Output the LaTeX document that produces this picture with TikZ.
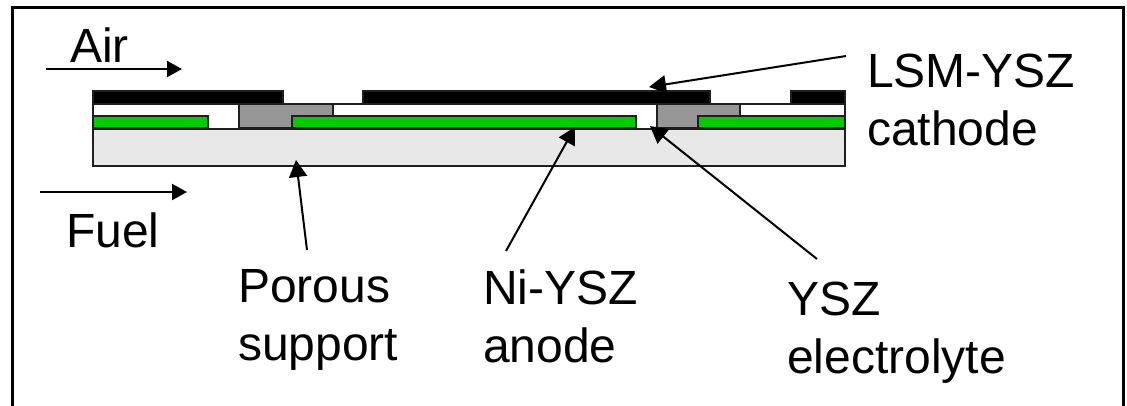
\documentclass[tikz,border=0pt]{standalone}
\usepackage{fontspec}
\setmainfont{Liberation Sans}
\usetikzlibrary{arrows.meta}
\definecolor{layline}{gray}{0.12}
\definecolor{anodegreen}{RGB}{0,204,0}
\definecolor{intergray}{RGB}{150,150,150}
\definecolor{supportgray}{RGB}{232,232,232}
\tikzset{
  lay/.style={draw=layline,line width=2pt},
  blacklay/.style={lay,fill=black},
  greenlay/.style={lay,fill=anodegreen},
  graylay/.style={lay,fill=intergray},
  supportlay/.style={lay,fill=supportgray},
  flow/.style={draw=black,line width=2pt,-{Triangle[length=15pt,width=16pt]}},
  lead/.style={draw=black,line width=2pt,-{Triangle[length=17pt,width=18pt]}},
  lab/.style={font=\fontsize{48}{58}\selectfont,inner sep=0pt,text=black,align=left,anchor=base west}
}
\begin{document}
\begin{tikzpicture}[x=1pt,y=-1pt]
\useasboundingbox (0,0) rectangle (1127,405);
\fill[white] (0,0) rectangle (1127,405);
\begin{scope}
\clip (0,0) rectangle (1127,405);
\draw[black,line width=3pt] (12,7) rectangle (1123,420);
\end{scope}
% layers
\draw[supportlay] (93,129) rectangle (845,166);
\draw[lay,fill=white] (93,104) rectangle (845,129);
\draw[greenlay] (93,116) rectangle (208,128);
\draw[greenlay] (292,116) rectangle (636,128);
\draw[greenlay] (698,116) rectangle (845,128);
\draw[graylay] (239,104) -- (333,104) -- (333,116) -- (292,116) -- (292,128) -- (239,128) -- cycle;
\draw[graylay] (657,104) -- (740,104) -- (740,116) -- (698,116) -- (698,128) -- (657,128) -- cycle;
\draw[blacklay] (93,91) rectangle (283,104);
\draw[blacklay] (363,91) rectangle (710,104);
\draw[blacklay] (791,91) rectangle (845,104);
% labels
\node[lab] (air) at (70,62) {Air};
\node[lab] (fuel) at (66,247) {Fuel};
\node[lab] (cath) at (867,145) {LSM-YSZ\\cathode};
\node[lab] (pore) at (238,360) {Porous\\support};
\node[lab] (ni) at (483,362) {Ni-YSZ\\anode};
\node[lab] (el) at (787,373) {YSZ\\electrolyte};
% free ends and targets
\coordinate (airA) at (46,69); \coordinate (airB) at (182,69);
\coordinate (fuelA) at (40,192); \coordinate (fuelB) at (187,192);
\coordinate (cathT) at (649,87); \coordinate (cathS) at (846,56);
\coordinate (poreT) at (296,160); \coordinate (poreS) at (307,250);
\coordinate (niT) at (575,127); \coordinate (niS) at (506,251);
\coordinate (elT) at (650,126); \coordinate (elS) at (817,259);
\draw[flow] (airA) -- (airB);
\draw[flow] (fuelA) -- (fuelB);
\draw[lead] (cathS) -- (cathT);
\draw[lead] (poreS) -- (poreT);
\draw[lead] (niS) -- (niT);
\draw[lead] (elS) -- (elT);
\end{tikzpicture}
\end{document}
